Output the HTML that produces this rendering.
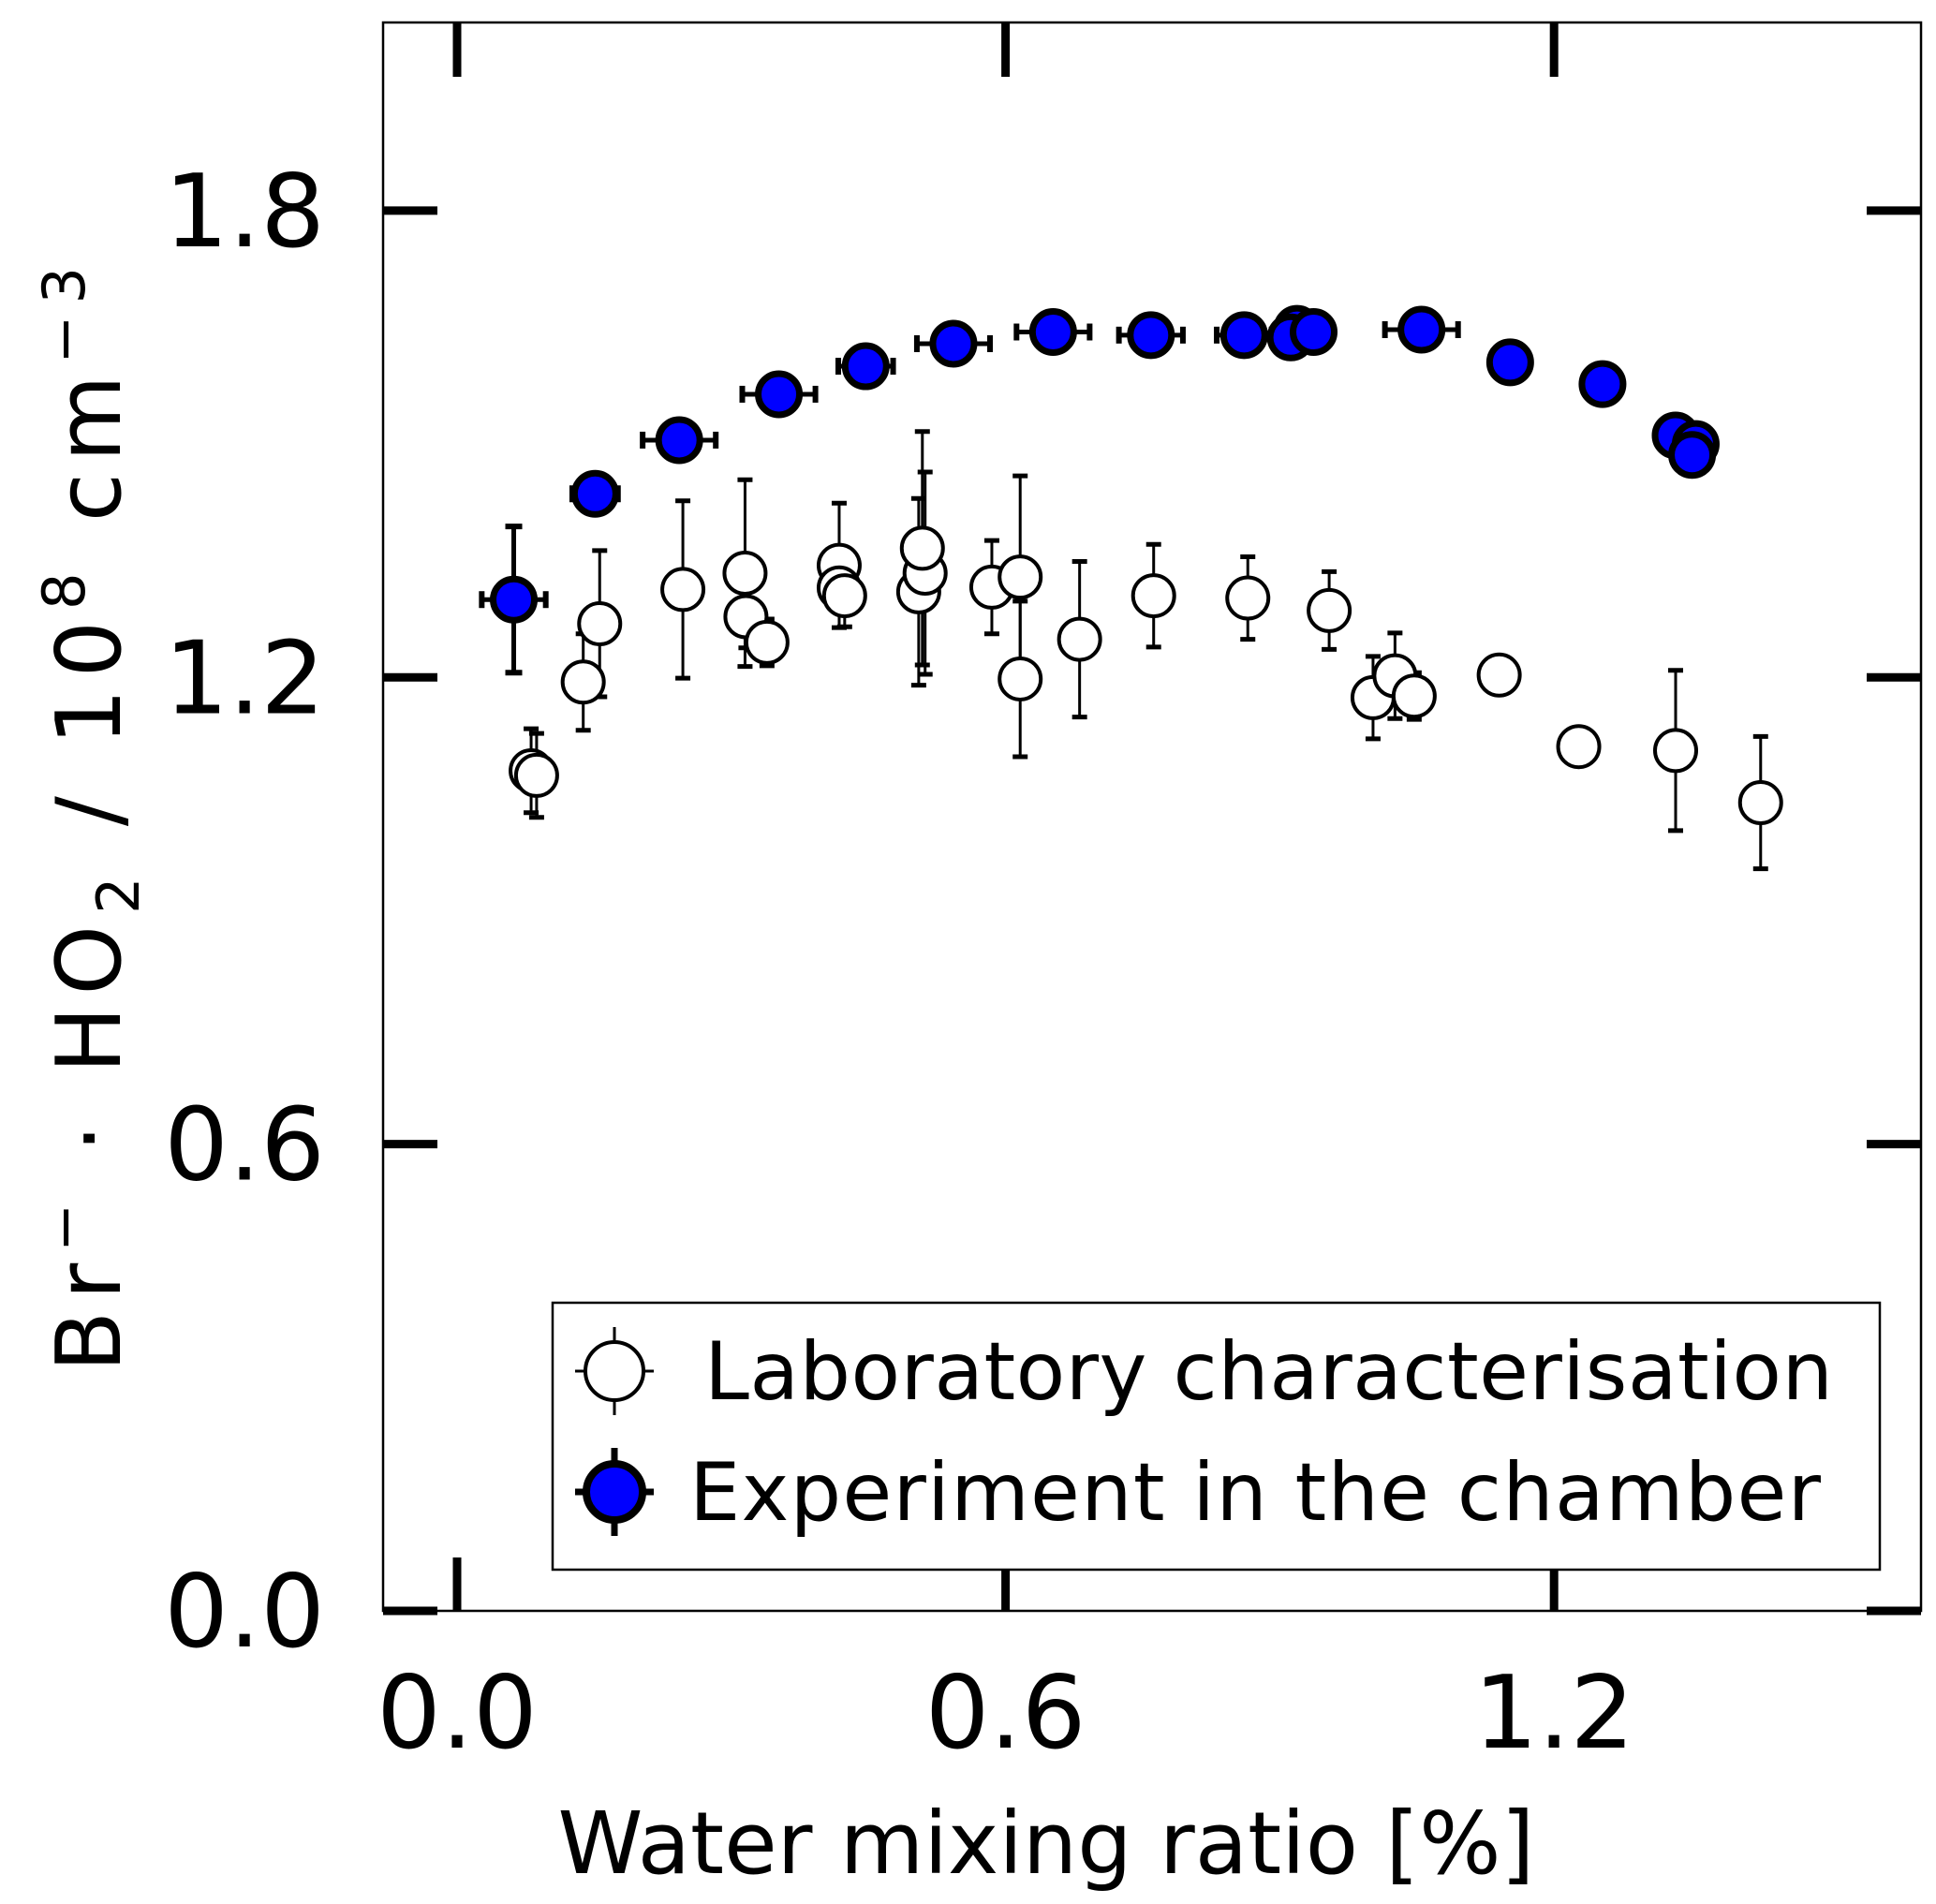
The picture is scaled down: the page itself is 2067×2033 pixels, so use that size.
<!DOCTYPE html>
<html><head><meta charset="utf-8"><style>
html,body{margin:0;padding:0;background:#fff}
svg{display:block}
text{font-family:"DejaVu Sans","Liberation Sans",sans-serif;fill:#000}
</style></head><body>
<svg id="chart" width="2067" height="2033" viewBox="0 0 2067 2033" xmlns="http://www.w3.org/2000/svg">
<rect x="409" y="24" width="1642" height="1696" fill="none" stroke="#000" stroke-width="2.5"/>
<g id="ticks"></g>
<g id="err"></g>
<g id="marks"></g>
<text x="1117" y="2000" font-size="92" text-anchor="middle">Water mixing ratio [%]</text>
<text transform="translate(128,875) rotate(-90)" font-size="95" text-anchor="middle" textLength="1180">Br<tspan font-size="62" dy="-38">−</tspan><tspan dy="38"> · HO</tspan><tspan font-size="62" dy="20">2</tspan><tspan dy="-20"> / 10</tspan><tspan font-size="62" dy="-38">8</tspan><tspan dy="38"> cm</tspan><tspan font-size="62" dy="-38">−3</tspan></text>
<g>
<rect x="590" y="1391" width="1417" height="285" fill="#fff" stroke="#000" stroke-width="2.5"/>
<g>
<line x1="656" y1="1417" x2="656" y2="1511" stroke="#000" stroke-width="3"/>
<line x1="614" y1="1464" x2="698" y2="1464" stroke="#000" stroke-width="3"/>
<circle cx="656" cy="1464" r="31" fill="#fff" stroke="#000" stroke-width="4"/>
<text x="752" y="1494" font-size="86" textLength="1205">Laboratory characterisation</text>
</g>
<g>
<line x1="656" y1="1546" x2="656" y2="1640" stroke="#000" stroke-width="7"/>
<line x1="614" y1="1593" x2="698" y2="1593" stroke="#000" stroke-width="7"/>
<circle cx="656" cy="1593" r="30" fill="#0000ff" stroke="#000" stroke-width="8"/>
<text x="736" y="1623" font-size="86" textLength="1208">Experiment in the chamber</text>
</g>
</g>
</svg>
<script>
const xTicks=[0.0,0.6,1.2];
const yTicks=[0.0,0.6,1.2,1.8];
const tickLabelsX=["0.0","0.6","1.2"];
const tickLabelsY=["0.0","0.6","1.2","1.8"];
const labX=[0.081,0.087,0.138,0.156,0.247,0.315,0.316,0.339,0.418,0.418,0.424,0.505,0.512,0.509,0.585,0.616,0.616,0.681,0.762,0.865,0.954,1.002,1.026,1.047,1.140,1.227,1.333,1.426];
const labY=[1.080,1.074,1.194,1.269,1.313,1.334,1.278,1.245,1.344,1.315,1.305,1.310,1.334,1.366,1.316,1.329,1.198,1.249,1.305,1.302,1.286,1.174,1.202,1.176,1.203,1.111,1.106,1.039];
const labErr=[0.054,0.054,0.062,0.094,0.114,0.12,0.04,0.03,0.08,0.03,0.04,0.12,0.13,0.15,0.06,0.13,0.1,0.1,0.066,0.053,0.05,0.053,0.055,0.03,0.02,0,0.103,0.085];
const chX=[0.062,0.151,0.243,0.352,0.447,0.543,0.652,0.759,0.861,0.919,0.912,0.937,1.055,1.152,1.253,1.333,1.355,1.351];
const chY=[1.300,1.436,1.505,1.564,1.600,1.629,1.644,1.640,1.640,1.648,1.637,1.644,1.647,1.605,1.577,1.511,1.500,1.486];
const chErr=[0.094,0.02,0.02,0.01,0.01,0.01,0.01,0.01,0.01,0.01,0.01,0.01,0.01,0.01,0.01,0.01,0.01,0.01];
const chXErr=[0.035,0.025,0.04,0.04,0.03,0.04,0.04,0.035,0.03,0.01,0.01,0.01,0.04,0.02,0.02,0.01,0.01,0.01];
const NS="http://www.w3.org/2000/svg";
const X0=488, XS=976, Y0=1720, YS=830.6;
function sx(v){return X0+v*XS;}
function sy(v){return Y0-v*YS;}
function mk(tag,attrs,parent){const e=document.createElementNS(NS,tag);for(const k in attrs)e.setAttribute(k,attrs[k]);parent.appendChild(e);return e;}
const tg=document.getElementById('ticks');
const eg=document.getElementById('err');
const mg=document.getElementById('marks');
const svg=document.getElementById('chart');
xTicks.forEach((t,i)=>{
  const x=sx(t);
  let a=mk('line',{x1:x,y1:1720,x2:x,y2:1663,stroke:'#000','stroke-width':9},tg);
  
  
  let b=mk('line',{x1:x,y1:24,x2:x,y2:82,stroke:'#000','stroke-width':9},tg);
  
  
  let l=mk('text',{x:x,y:1866,'font-size':108,'text-anchor':'middle'},svg);
  l.textContent=tickLabelsX[i];
  
  
});
yTicks.forEach((t,i)=>{
  const y=sy(t);
  let a=mk('line',{x1:409,y1:y,x2:467,y2:y,stroke:'#000','stroke-width':9},tg);
  
  
  let b=mk('line',{x1:1993,y1:y,x2:2051,y2:y,stroke:'#000','stroke-width':9},tg);
  
  
  let l=mk('text',{x:347,y:y+38,'font-size':108,'text-anchor':'end'},svg);
  l.textContent=tickLabelsY[i];
  
  
});
labX.forEach((v,i)=>{
  const x=sx(v),y=sy(labY[i]),e=labErr[i]*YS;
  if(e>0){
    let l=mk('line',{x1:x,y1:y-e,x2:x,y2:y+e,stroke:'#000','stroke-width':3},eg);
    
    
    mk('line',{x1:x-8,y1:y-e,x2:x+8,y2:y-e,stroke:'#000','stroke-width':5},eg);
    mk('line',{x1:x-8,y1:y+e,x2:x+8,y2:y+e,stroke:'#000','stroke-width':5},eg);
  }
  let c=mk('circle',{cx:x,cy:y,r:22,fill:'#fff',stroke:'#000','stroke-width':4},mg);
  
  
});
chX.forEach((v,i)=>{
  const x=sx(v),y=sy(chY[i]),e=chErr[i]*YS,ex=chXErr[i]*XS;
  let l=mk('line',{x1:x,y1:y-e,x2:x,y2:y+e,stroke:'#000','stroke-width':5},eg);
  
  
  mk('line',{x1:x-9,y1:y-e,x2:x+9,y2:y-e,stroke:'#000','stroke-width':6},eg);
  mk('line',{x1:x-9,y1:y+e,x2:x+9,y2:y+e,stroke:'#000','stroke-width':6},eg);
  mk('line',{x1:x-ex,y1:y,x2:x+ex,y2:y,stroke:'#000','stroke-width':5},eg);
  mk('line',{x1:x-ex,y1:y-9,x2:x-ex,y2:y+9,stroke:'#000','stroke-width':6},eg);
  mk('line',{x1:x+ex,y1:y-9,x2:x+ex,y2:y+9,stroke:'#000','stroke-width':6},eg);
});
chX.forEach((v,i)=>{
  let c=mk('circle',{cx:sx(v),cy:sy(chY[i]),r:22,fill:'#0000ff',stroke:'#000','stroke-width':7},mg);
  
  
});
</script>
</body></html>
